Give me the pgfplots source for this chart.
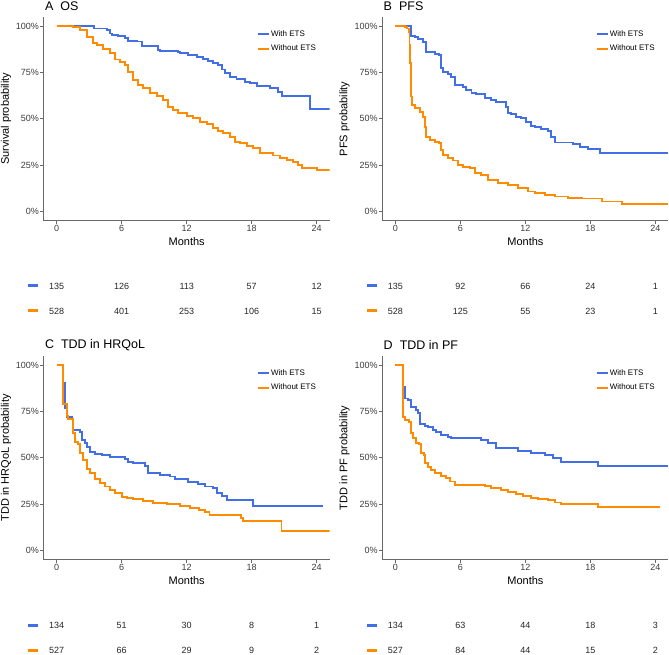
\documentclass[border=0pt]{standalone}
\usepackage{fontspec}
\setmainfont{Liberation Sans}
\usepackage{pgfplots}
\pgfplotsset{compat=1.18}

\definecolor{etsblue}{RGB}{66,110,230}
\definecolor{etsorange}{RGB}{255,140,0}
\definecolor{axgray}{RGB}{105,105,105}
\definecolor{ticktext}{RGB}{60,60,60}

\pgfplotsset{
  km/.style={
    scale only axis, width=286pt, height=204pt,
    xmin=-1.2, xmax=25.2, ymin=-0.05, ymax=1.05,
    axis x line*=bottom, axis y line*=left,
    axis line style={draw=axgray, line width=0.8pt},
    xtick={0,6,12,18,24},
    ytick={0,0.25,0.5,0.75,1},
    yticklabels={0\%,25\%,50\%,75\%,100\%},
    tick style={draw=axgray, line width=0.8pt},
    tick align=outside, major tick length=3.5pt,
    /pgf/number format/assume math mode=true,
    tick label style={font=\fontsize{9}{10}\selectfont, text=ticktext, inner sep=1pt},
    xlabel={Months},
    xlabel style={at={(axis description cs:0.5,-0.104)}, anchor=center, font=\fontsize{11}{12}\selectfont},
    ylabel style={at={(axis description cs:-0.132,0.5)}, anchor=center, font=\fontsize{11}{12}\selectfont},
    title style={at={(axis description cs:0.004,1.058)}, anchor=west, inner sep=0pt, yshift=-7pt, font=\fontsize{12.5}{14}\selectfont},
    legend style={draw=none, fill=none, at={(0.745,0.94)}, anchor=north west,
      font=\fontsize{8}{9}\selectfont, inner sep=0pt, row sep=5pt,
      nodes={inner sep=1.2pt}},
    legend image code/.code={\draw[#1, line width=1.9pt] (0pt,0pt) -- (11pt,0pt);},
    legend cell align=left,
  },
  curveb/.style={etsblue, line width=1.9pt, const plot, mark=none},
  curveo/.style={etsorange, line width=1.9pt, const plot, mark=none},
  risk/.style={
    scale only axis, width=286pt, height=50pt,
    xmin=-1.2, xmax=25.2, ymin=0, ymax=1,
    hide axis, clip=false,
  },
  risknum/.style={only marks, mark=*, mark size=0pt, mark options={draw=none, fill=none},
    nodes near coords, point meta=explicit symbolic,
    every node near coord/.append style={anchor=center, inner sep=0pt, font=\fontsize{9}{10}\selectfont, text=black!85}},
  riskdash/.style={line width=3pt, mark=none},
}

\begin{document}
\begin{tikzpicture}
\useasboundingbox (0pt,0pt) rectangle (669pt,654pt);

% ---------------- A: OS ----------------
\begin{axis}[km, at={(43.7pt,433.2pt)}, anchor=south west,
  title={A\hspace{7pt}OS}, ylabel={Survival probability}]
\addplot[curveb] coordinates {(0,1) (3.48,0.987) (4.62,0.978) (4.92,0.960) (5.08,0.952) (5.69,0.946) (6.31,0.937) (6.62,0.921) (7.38,0.917) (7.85,0.892) (9.38,0.871) (9.54,0.865) (11.23,0.858) (11.38,0.853) (12.15,0.844) (12.92,0.835) (13.54,0.824) (14.0,0.811) (14.46,0.801) (14.92,0.790) (15.23,0.766) (15.54,0.749) (16.0,0.724) (16.6,0.713) (17.4,0.700) (17.85,0.691) (18.46,0.677) (19.7,0.664) (20.46,0.646) (20.77,0.625) (23.35,0.553) (25.2,0.553)};
\addlegendentry{With ETS}
\addplot[curveo] coordinates {(0,1) (1.54,0.993) (2.15,0.978) (2.77,0.943) (3.38,0.910) (3.69,0.898) (4.31,0.874) (4.92,0.853) (5.38,0.820) (5.85,0.808) (6.31,0.790) (6.62,0.754) (7.08,0.709) (7.54,0.682) (8.0,0.664) (8.62,0.641) (9.23,0.623) (9.85,0.601) (10.31,0.566) (10.77,0.548) (11.23,0.530) (12.0,0.516) (12.62,0.503) (13.23,0.485) (13.85,0.472) (14.46,0.449) (14.92,0.436) (15.38,0.422) (16.0,0.400) (16.46,0.377) (16.92,0.368) (17.54,0.355) (18.15,0.341) (18.77,0.318) (19.69,0.314) (20.0,0.302) (20.62,0.291) (21.23,0.278) (21.85,0.269) (22.31,0.251) (22.62,0.237) (24.0,0.224) (25.2,0.224)};
\addlegendentry{Without ETS}
\end{axis}
\begin{axis}[risk, at={(43.7pt,330.5pt)}, anchor=south west]
\addplot[riskdash, etsblue] coordinates {(-2.62,0.75) (-1.70,0.75)};
\addplot[riskdash, etsorange] coordinates {(-2.62,0.25) (-1.70,0.25)};
\addplot[risknum] table[meta=n] {
x y n
0 0.75 135
6 0.75 126
12 0.75 113
18 0.75 57
24 0.75 12
0 0.25 528
6 0.25 401
12 0.25 253
18 0.25 106
24 0.25 15
};
\end{axis}

% ---------------- B: PFS ----------------
\begin{axis}[km, at={(382.4pt,433.2pt)}, anchor=south west,
  title={B\hspace{7pt}PFS}, ylabel={PFS probability}]
\addplot[curveb] coordinates {(0,1) (1.42,0.946) (1.78,0.939) (2.09,0.928) (2.55,0.916) (2.86,0.858) (3.63,0.849) (4.0,0.844) (4.18,0.817) (4.25,0.772) (4.4,0.754) (4.86,0.741) (5.17,0.724) (5.48,0.682) (6.25,0.670) (6.55,0.655) (7.02,0.641) (7.48,0.634) (8.25,0.610) (8.86,0.601) (9.32,0.589) (10.25,0.566) (10.4,0.530) (10.7,0.524) (11.17,0.512) (11.63,0.503) (12.09,0.485) (12.55,0.461) (12.86,0.454) (13.48,0.445) (14.09,0.436) (14.4,0.404) (14.7,0.372) (16.4,0.363) (17.0,0.350) (17.8,0.338) (18.86,0.314) (25.2,0.314)};
\addlegendentry{With ETS}
\addplot[curveo] coordinates {(0,1) (0.86,0.996) (1.1,0.987) (1.23,0.970) (1.3,0.90) (1.35,0.80) (1.4,0.70) (1.45,0.62) (1.55,0.575) (1.8,0.556) (2.25,0.539) (2.55,0.512) (2.7,0.458) (2.86,0.404) (3.17,0.386) (3.63,0.377) (4.0,0.368) (4.18,0.332) (4.4,0.305) (4.86,0.287) (5.32,0.275) (5.78,0.251) (6.25,0.242) (6.86,0.233) (7.32,0.206) (7.94,0.197) (8.55,0.171) (9.48,0.156) (10.4,0.144) (11.32,0.126) (12.25,0.108) (12.86,0.099) (13.78,0.090) (14.7,0.081) (15.9,0.075) (17.2,0.070) (19.1,0.054) (20.9,0.041) (25.2,0.041)};
\addlegendentry{Without ETS}
\end{axis}
\begin{axis}[risk, at={(382.4pt,330.5pt)}, anchor=south west]
\addplot[riskdash, etsblue] coordinates {(-2.62,0.75) (-1.70,0.75)};
\addplot[riskdash, etsorange] coordinates {(-2.62,0.25) (-1.70,0.25)};
\addplot[risknum] table[meta=n] {
x y n
0 0.75 135
6 0.75 92
12 0.75 66
18 0.75 24
24 0.75 1
0 0.25 528
6 0.25 125
12 0.25 55
18 0.25 23
24 0.25 1
};
\end{axis}

% ---------------- C: TDD in HRQoL ----------------
\begin{axis}[km, at={(43.7pt,94.2pt)}, anchor=south west,
  title={C\hspace{7pt}TDD in HRQoL}, ylabel={TDD in HRQoL probability}]
\addplot[curveb] coordinates {(0,1) (0.62,0.903) (0.77,0.767) (0.92,0.718) (1.38,0.709) (1.48,0.650) (2.15,0.641) (2.31,0.596) (2.62,0.578) (2.83,0.560) (3.08,0.533) (3.54,0.521) (4.15,0.515) (4.92,0.503) (6.31,0.492) (6.62,0.479) (7.08,0.470) (8.15,0.456) (8.46,0.420) (9.54,0.408) (10.46,0.399) (10.92,0.384) (12.15,0.368) (13.08,0.359) (13.69,0.345) (14.46,0.336) (14.77,0.312) (15.23,0.296) (15.69,0.273) (18.15,0.241) (24.55,0.241)};
\addlegendentry{With ETS}
\addplot[curveo] coordinates {(0,1) (0.62,0.79) (0.92,0.726) (1.08,0.707) (1.48,0.632) (1.69,0.587) (2.0,0.575) (2.15,0.524) (2.46,0.488) (2.83,0.438) (3.08,0.417) (3.54,0.384) (4.0,0.363) (4.46,0.345) (4.92,0.327) (5.38,0.309) (5.99,0.291) (6.46,0.285) (7.08,0.278) (8.0,0.267) (8.92,0.258) (10.15,0.251) (11.38,0.240) (12.3,0.228) (13.1,0.219) (13.7,0.210) (14.1,0.190) (17.0,0.175) (17.2,0.160) (20.75,0.105) (25.2,0.105)};
\addlegendentry{Without ETS}
\end{axis}
\begin{axis}[risk, at={(43.7pt,-8.5pt)}, anchor=south west]
\addplot[riskdash, etsblue] coordinates {(-2.62,0.75) (-1.70,0.75)};
\addplot[riskdash, etsorange] coordinates {(-2.62,0.25) (-1.70,0.25)};
\addplot[risknum] table[meta=n] {
x y n
0 0.75 134
6 0.75 51
12 0.75 30
18 0.75 8
24 0.75 1
0 0.25 527
6 0.25 66
12 0.25 29
18 0.25 9
24 0.25 2
};
\end{axis}

% ---------------- D: TDD in PF ----------------
\begin{axis}[km, at={(382.4pt,94.2pt)}, anchor=south west,
  title={D\hspace{7pt}TDD in PF}, ylabel={TDD in PF probability}]
\addplot[curveb] coordinates {(0,1) (0.71,0.883) (0.86,0.820) (1.17,0.811) (1.48,0.772) (1.94,0.758) (2.09,0.740) (2.25,0.682) (2.71,0.671) (3.02,0.664) (3.48,0.650) (3.78,0.641) (4.25,0.623) (4.86,0.614) (5.17,0.605) (7.94,0.596) (8.55,0.582) (9.32,0.555) (11.32,0.539) (12.55,0.528) (13.78,0.515) (14.55,0.501) (15.32,0.479) (18.7,0.456) (25.2,0.456)};
\addlegendentry{With ETS}
\addplot[curveo] coordinates {(0,1) (0.71,0.722) (0.92,0.704) (1.23,0.695) (1.42,0.632) (1.63,0.605) (1.94,0.578) (2.15,0.575) (2.34,0.524) (2.65,0.515) (2.77,0.470) (3.02,0.452) (3.32,0.434) (3.63,0.417) (4.25,0.402) (4.71,0.390) (5.02,0.372) (5.48,0.354) (8.25,0.350) (8.86,0.336) (9.78,0.327) (10.4,0.314) (11.17,0.305) (11.78,0.294) (12.55,0.285) (13.17,0.278) (14.09,0.273) (14.7,0.259) (15.32,0.251) (18.7,0.233) (24.4,0.233)};
\addlegendentry{Without ETS}
\end{axis}
\begin{axis}[risk, at={(382.4pt,-8.5pt)}, anchor=south west]
\addplot[riskdash, etsblue] coordinates {(-2.62,0.75) (-1.70,0.75)};
\addplot[riskdash, etsorange] coordinates {(-2.62,0.25) (-1.70,0.25)};
\addplot[risknum] table[meta=n] {
x y n
0 0.75 134
6 0.75 63
12 0.75 44
18 0.75 18
24 0.75 3
0 0.25 527
6 0.25 84
12 0.25 44
18 0.25 15
24 0.25 2
};
\end{axis}
\end{tikzpicture}
\end{document}
